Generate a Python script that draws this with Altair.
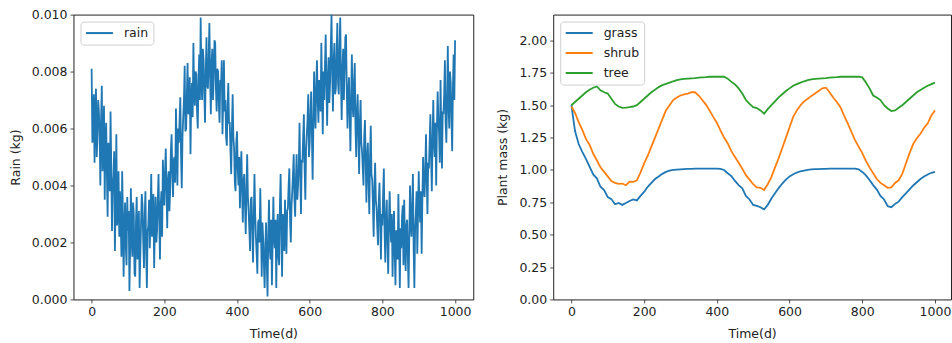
import altair as alt
import pandas as pd

# ---------------- data ----------------
rain_t = list(range(0, 1001, 2))
rain = [
    0.0081, 0.0055, 0.0060, 0.0072, 0.0048, 0.0066, 0.0074, 0.0050, 0.0057, 0.0070,
    0.0066, 0.0058, 0.0040, 0.0063, 0.0075, 0.0045, 0.0052, 0.0068, 0.0035, 0.0056,
    0.0062, 0.0044, 0.0029, 0.0055, 0.0050, 0.0038, 0.0066, 0.0047, 0.0024, 0.0040,
    0.0043, 0.0052, 0.0017, 0.0035, 0.0058, 0.0026, 0.0030, 0.0045, 0.0022, 0.0038,
    0.0028, 0.0015, 0.0045, 0.0030, 0.0008, 0.0025, 0.0034, 0.0019, 0.0012, 0.0036,
    0.0024, 0.0031, 0.0003, 0.0018, 0.0039, 0.0022, 0.0015, 0.0034, 0.0030, 0.0009,
    0.0008, 0.0027, 0.0036, 0.0014, 0.0020, 0.0031, 0.0004, 0.0016, 0.0027, 0.0037,
    0.0033, 0.0020, 0.0011, 0.0029, 0.0038, 0.0017, 0.0004, 0.0024, 0.0026, 0.0035,
    0.0018, 0.0030, 0.0044, 0.0022, 0.0028, 0.0037, 0.0011, 0.0025, 0.0036, 0.0020,
    0.0024, 0.0035, 0.0044, 0.0029, 0.0014, 0.0033, 0.0038, 0.0022, 0.0049, 0.0040,
    0.0033, 0.0045, 0.0053, 0.0038, 0.0025, 0.0042, 0.0045, 0.0031, 0.0038, 0.0052,
    0.0058, 0.0044, 0.0036, 0.0049, 0.0050, 0.0041, 0.0067, 0.0054, 0.0040, 0.0060,
    0.0055, 0.0063, 0.0071, 0.0050, 0.0039, 0.0057, 0.0064, 0.0070, 0.0082, 0.0059,
    0.0060, 0.0072, 0.0083, 0.0065, 0.0066, 0.0078, 0.0051, 0.0070, 0.0076, 0.0064,
    0.0090, 0.0073, 0.0068, 0.0080, 0.0079, 0.0066, 0.0060, 0.0077, 0.0086, 0.0070,
    0.0099, 0.0078, 0.0070, 0.0088, 0.0084, 0.0072, 0.0062, 0.0080, 0.0092, 0.0075,
    0.0074, 0.0085, 0.0097, 0.0078, 0.0065, 0.0083, 0.0088, 0.0070, 0.0078, 0.0091,
    0.0090, 0.0074, 0.0066, 0.0081, 0.0080, 0.0068, 0.0062, 0.0077, 0.0075, 0.0084,
    0.0058, 0.0070, 0.0084, 0.0066, 0.0070, 0.0057, 0.0054, 0.0068, 0.0076, 0.0062,
    0.0062, 0.0052, 0.0044, 0.0060, 0.0072, 0.0057, 0.0053, 0.0041, 0.0038, 0.0055,
    0.0059, 0.0046, 0.0040, 0.0050, 0.0032, 0.0044, 0.0052, 0.0038, 0.0027, 0.0042,
    0.0044, 0.0033, 0.0023, 0.0038, 0.0051, 0.0036, 0.0031, 0.0024, 0.0017, 0.0035,
    0.0036, 0.0025, 0.0013, 0.0028, 0.0044, 0.0030, 0.0022, 0.0016, 0.0009, 0.0027,
    0.0028, 0.0020, 0.0039, 0.0024, 0.0008, 0.0027, 0.0021, 0.0012, 0.0004, 0.0019,
    0.0027, 0.0012, 0.0001, 0.0022, 0.0035, 0.0018, 0.0014, 0.0028, 0.0005, 0.0020,
    0.0036, 0.0022, 0.0018, 0.0028, 0.0004, 0.0024, 0.0030, 0.0015, 0.0012, 0.0033,
    0.0044, 0.0026, 0.0008, 0.0030, 0.0026, 0.0017, 0.0035, 0.0024, 0.0016, 0.0031,
    0.0032, 0.0040, 0.0046, 0.0028, 0.0020, 0.0033, 0.0038, 0.0044, 0.0051, 0.0035,
    0.0029, 0.0042, 0.0051, 0.0035, 0.0040, 0.0047, 0.0062, 0.0044, 0.0030, 0.0049,
    0.0048, 0.0057, 0.0065, 0.0046, 0.0035, 0.0052, 0.0058, 0.0063, 0.0072, 0.0050,
    0.0055, 0.0066, 0.0073, 0.0058, 0.0042, 0.0060, 0.0080, 0.0067, 0.0060, 0.0075,
    0.0084, 0.0070, 0.0062, 0.0077, 0.0074, 0.0066, 0.0090, 0.0073, 0.0058, 0.0080,
    0.0070, 0.0082, 0.0093, 0.0075, 0.0061, 0.0078, 0.0085, 0.0069, 0.0076, 0.0088,
    0.0100, 0.0079, 0.0066, 0.0084, 0.0090, 0.0072, 0.0074, 0.0086, 0.0097, 0.0076,
    0.0072, 0.0088, 0.0099, 0.0077, 0.0063, 0.0080, 0.0088, 0.0070, 0.0080, 0.0092,
    0.0093, 0.0074, 0.0060, 0.0072, 0.0078, 0.0065, 0.0052, 0.0070, 0.0086, 0.0068,
    0.0064, 0.0076, 0.0083, 0.0060, 0.0050, 0.0066, 0.0072, 0.0058, 0.0044, 0.0062,
    0.0070, 0.0055, 0.0052, 0.0046, 0.0040, 0.0057, 0.0063, 0.0049, 0.0034, 0.0050,
    0.0055, 0.0041, 0.0030, 0.0050, 0.0061, 0.0044, 0.0042, 0.0033, 0.0022, 0.0039,
    0.0048, 0.0035, 0.0032, 0.0025, 0.0019, 0.0034, 0.0041, 0.0028, 0.0014, 0.0030,
    0.0026, 0.0037, 0.0046, 0.0024, 0.0013, 0.0029, 0.0035, 0.0020, 0.0009, 0.0027,
    0.0038, 0.0026, 0.0020, 0.0030, 0.0008, 0.0022, 0.0031, 0.0016, 0.0005, 0.0024,
    0.0024, 0.0014, 0.0037, 0.0020, 0.0004, 0.0025, 0.0018, 0.0029, 0.0033, 0.0012,
    0.0035, 0.0021, 0.0010, 0.0026, 0.0028, 0.0015, 0.0004, 0.0022, 0.0040, 0.0027,
    0.0022, 0.0033, 0.0044, 0.0018, 0.0004, 0.0025, 0.0030, 0.0038, 0.0016, 0.0029,
    0.0045, 0.0032, 0.0027, 0.0038, 0.0016, 0.0035, 0.0050, 0.0040, 0.0036, 0.0046,
    0.0058, 0.0042, 0.0030, 0.0048, 0.0046, 0.0055, 0.0065, 0.0050, 0.0038, 0.0056,
    0.0070, 0.0055, 0.0050, 0.0062, 0.0040, 0.0060, 0.0073, 0.0064, 0.0058, 0.0048,
    0.0077, 0.0060, 0.0046, 0.0066, 0.0065, 0.0072, 0.0084, 0.0062, 0.0055, 0.0070,
    0.0089, 0.0068, 0.0060, 0.0080, 0.0076, 0.0064, 0.0052, 0.0074, 0.0086, 0.0070,
    0.0091,
]

mass_t = list(range(0, 1001, 10))
grass = [
    1.50, 1.30, 1.20, 1.14, 1.085, 1.025, 0.965, 0.935, 0.87, 0.845,
    0.79, 0.775, 0.735, 0.745, 0.73, 0.745, 0.76, 0.772, 0.765, 0.80,
    0.83, 0.87, 0.90, 0.93, 0.95, 0.97, 0.985, 0.995, 1.00, 1.003,
    1.005, 1.007, 1.008, 1.009, 1.01, 1.01, 1.01, 1.01, 1.01, 1.01,
    1.01, 1.008, 1.00, 0.975, 0.952, 0.915, 0.883, 0.858, 0.80, 0.772,
    0.73, 0.722, 0.712, 0.695, 0.73, 0.78, 0.82, 0.86, 0.895, 0.925,
    0.95, 0.967, 0.98, 0.99, 0.995, 1.00, 1.004, 1.006, 1.007, 1.008,
    1.009, 1.01, 1.01, 1.01, 1.01, 1.01, 1.01, 1.01, 1.01, 1.005,
    0.985, 0.958, 0.922, 0.883, 0.848, 0.80, 0.772, 0.72, 0.712, 0.738,
    0.755, 0.79, 0.82, 0.85, 0.88, 0.905, 0.93, 0.95, 0.965, 0.978,
    0.985,
]
shrub = [
    1.49, 1.44, 1.37, 1.31, 1.24, 1.195, 1.125, 1.075, 1.02, 0.985,
    0.95, 0.915, 0.90, 0.892, 0.895, 0.882, 0.91, 0.908, 0.92, 0.98,
    1.05, 1.11, 1.18, 1.25, 1.32, 1.39, 1.46, 1.50, 1.54, 1.56,
    1.575, 1.583, 1.59, 1.60, 1.60, 1.575, 1.54, 1.505, 1.46, 1.41,
    1.365, 1.305, 1.25, 1.205, 1.145, 1.10, 1.055, 1.01, 0.96, 0.925,
    0.89, 0.865, 0.862, 0.845, 0.89, 0.945, 1.02, 1.09, 1.17, 1.25,
    1.33, 1.41, 1.46, 1.50, 1.53, 1.55, 1.572, 1.59, 1.61, 1.63,
    1.635, 1.60, 1.56, 1.525, 1.485, 1.42, 1.36, 1.295, 1.23, 1.18,
    1.13, 1.07, 1.02, 0.975, 0.93, 0.90, 0.882, 0.862, 0.865, 0.90,
    0.92, 0.97, 1.05, 1.13, 1.20, 1.245, 1.28, 1.325, 1.36, 1.42,
    1.46,
]
tree = [
    1.50, 1.525, 1.55, 1.575, 1.60, 1.62, 1.635, 1.645, 1.615, 1.60,
    1.59, 1.55, 1.51, 1.49, 1.48, 1.482, 1.485, 1.49, 1.50, 1.525,
    1.55, 1.575, 1.60, 1.62, 1.64, 1.655, 1.665, 1.675, 1.685, 1.693,
    1.70, 1.703, 1.706, 1.708, 1.71, 1.713, 1.715, 1.717, 1.72, 1.72,
    1.72, 1.72, 1.72, 1.705, 1.68, 1.66, 1.63, 1.59, 1.54, 1.51,
    1.485, 1.478, 1.46, 1.435, 1.47, 1.50, 1.53, 1.56, 1.585, 1.61,
    1.63, 1.65, 1.663, 1.675, 1.685, 1.693, 1.70, 1.703, 1.706, 1.708,
    1.71, 1.713, 1.715, 1.717, 1.72, 1.72, 1.72, 1.72, 1.72, 1.72,
    1.715, 1.675, 1.63, 1.575, 1.56, 1.54, 1.50, 1.475, 1.455, 1.46,
    1.48, 1.50, 1.525, 1.55, 1.575, 1.60, 1.618, 1.635, 1.65, 1.663,
    1.675,
]

x_ticks = [0, 200, 400, 600, 800, 1000]
rain_ticks = [0.0, 0.002, 0.004, 0.006, 0.008, 0.010]
mass_ticks = [0.0, 0.25, 0.5, 0.75, 1.0, 1.25, 1.5, 1.75, 2.0]
plants = ["grass", "shrub", "tree"]
tab = ["#1f77b4", "#ff7f0e", "#2ca02c"]

# ---------------- tables ----------------
rain_df = pd.DataFrame({"t": rain_t, "rain": rain, "series": "rain"})
mass_df = pd.concat(
    [pd.DataFrame({"t": mass_t, "mass": v, "plant": name})
     for name, v in zip(plants, [grass, shrub, tree])],
    ignore_index=True,
)

FS = 12.5
legend_common = dict(
    orient="top-left", title=None, offset=7, padding=4.5,
    strokeColor="#d0d0d0", fillColor="white", cornerRadius=3,
    symbolType="stroke", symbolSize=729, symbolStrokeWidth=2,
    clipHeight=14, labelFontSize=FS, labelColor="#222", labelOffset=10,
    rowPadding=6,
)

left = alt.Chart(rain_df).mark_line(strokeWidth=1.8, clip=True).encode(
    x=alt.X("t:Q", scale=alt.Scale(domain=[-50, 1050], nice=False, zero=False),
            axis=alt.Axis(values=x_ticks, title="Time(d)", format="d")),
    y=alt.Y("rain:Q", scale=alt.Scale(domain=[0, 0.010], nice=False),
            axis=alt.Axis(values=rain_ticks, title="Rain (kg)", format=".3f")),
    color=alt.Color("series:N", scale=alt.Scale(domain=["rain"], range=[tab[0]]),
                    legend=alt.Legend(**legend_common)),
).properties(width=400, height=285)

right = alt.Chart(mass_df).mark_line(strokeWidth=1.8, clip=True).encode(
    x=alt.X("t:Q", scale=alt.Scale(domain=[-50, 1044], nice=False, zero=False),
            axis=alt.Axis(values=x_ticks, title="Time(d)", format="d")),
    y=alt.Y("mass:Q", scale=alt.Scale(domain=[0, 2.2], nice=False),
            axis=alt.Axis(values=mass_ticks, title="Plant mass (kg)", format=".2f")),
    color=alt.Color("plant:N", scale=alt.Scale(domain=plants, range=tab),
                    legend=alt.Legend(**legend_common)),
).properties(width=398, height=285)

chart = alt.hconcat(left, right, spacing=22).resolve_scale(
    color="independent", x="independent", y="independent"
).resolve_legend(color="independent").properties(
    padding={"left": 8.5, "top": 7.5, "right": 0, "bottom": 0}
).configure(
    font="DejaVu Sans",
).configure_view(
    stroke="#222", strokeWidth=1,
).configure_axis(
    domain=False, grid=False, ticks=True, tickColor="#222", tickSize=3.5,
    tickWidth=0.8, labelFontSize=FS, labelColor="#222", labelPadding=3,
    titleFontSize=FS, titleFontWeight="normal", titleColor="#222",
).configure_axisX(
    titlePadding=9,
).configure_axisY(
    titlePadding=9,
)

chart.save("out.html", embed_options={"renderer": "svg", "actions": False})
